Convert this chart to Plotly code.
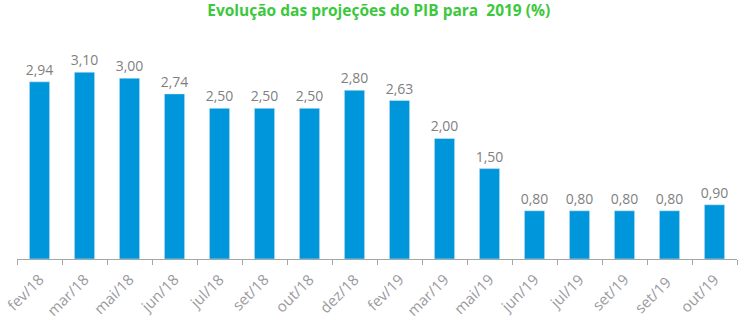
import plotly.graph_objects as go

categories = ["fev/18", "mar/18", "mai/18", "jun/18", "jul/18", "set/18", "out/18", "dez/18",
              "fev/19", "mar/19", "mai/19", "jun/19", "jul/19", "set/19", "set/19 ", "out/19"]
values = [2.94, 3.10, 3.00, 2.74, 2.50, 2.50, 2.50, 2.80, 2.63, 2.00, 1.50, 0.80, 0.80, 0.80, 0.80, 0.90]
labels = [f"{v:.2f}".replace(".", ",") for v in values]

fig = go.Figure(go.Bar(
    x=categories, y=values, text=labels, textposition="outside",
    textfont=dict(color="#7f7f7f", size=14, family="Open Sans"),
    constraintext="none",
    marker=dict(color="#0096DB"), width=0.45, cliponaxis=False,
))

fig.update_layout(
    width=750, height=335,
    margin=dict(l=17, r=13, t=30, b=76),
    paper_bgcolor="white", plot_bgcolor="white",
    showlegend=False,
    title=dict(text="<b>Evolução das projeções do PIB para  2019 (%)</b>", x=0.505, xanchor="center",
               y=0.985, yanchor="top",
               font=dict(color="#3CC83C", size=15.5, family="Open Sans")),
    xaxis=dict(type="category", showline=True, linecolor="#a6a6a6", linewidth=1,
               ticks="outside", tickson="boundaries", ticklen=5, tickcolor="#a6a6a6",
               tickangle=-45, tickfont=dict(color="#9a9a9e", size=15, family="Open Sans"),
               ticklabelstandoff=5,
               showgrid=False, automargin=False),
    yaxis=dict(range=[0, 3.8], visible=False, showgrid=False),
    bargap=0.55,
)

fig.write_html("out.html")
